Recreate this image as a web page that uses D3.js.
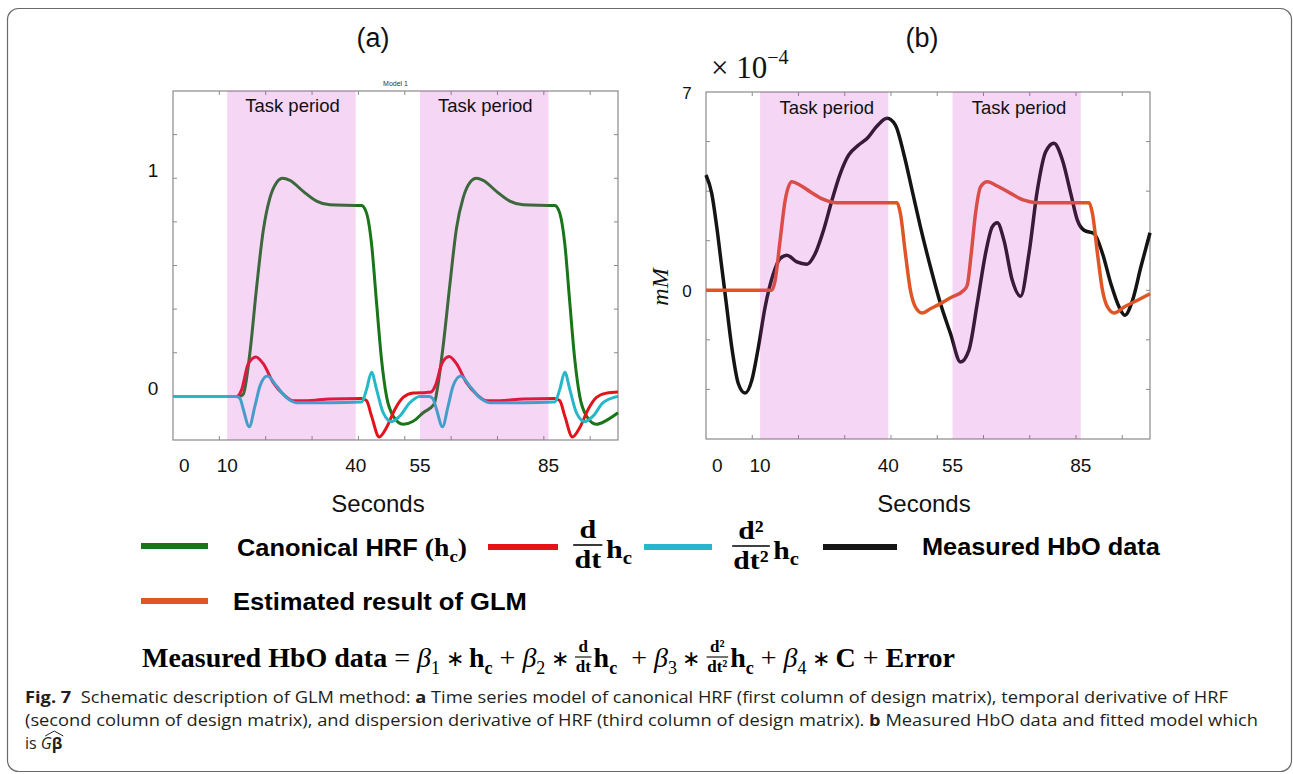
<!DOCTYPE html>
<html><head><meta charset="utf-8">
<script src="https://cdn.jsdelivr.net/npm/d3@7"></script>
<style>body{margin:0;background:#fff}svg{display:block}</style>
</head><body>
<svg id="chart" width="1293" height="774"></svg>
<script>
// ---------------- data ----------------
const timeDomain = [-2.65, 101.2];            // seconds shown on both panels
const taskPeriods = [[10, 40], [55, 85]];     // shaded task blocks (s)
const xTickLabels = [0, 10, 40, 55, 85];
const yLabelsA = [0, 1];
const yTicksA = [0, 0.2, 0.4, 0.6, 0.8, 1.0, 1.2];
const yDomainA = [-0.2, 1.4];
const yLabelsB = [0, 7];
const yTicksB = [-3.5, -1.75, 0, 1.75, 3.5, 5.25];
const yDomainB = [-5.25, 7];
const frameTicks = [1, 2, 3, 4, 5, 6, 7, 8, 9];

// canonical HRF (green)
const canonicalHRF = [[-2.65,0],[12.9,0],[13.75,0.01],[15.3,0.2],[16.86,0.5],[18.41,0.76],[19.97,0.91],[21.52,0.98],[22.92,1.0],[24.63,0.99],[27.74,0.94],[30.85,0.895],[33.96,0.878],[41.35,0.875],[42.52,0.84],[43.68,0.70],[44.85,0.43],[46.01,0.17],[47.18,0.0],[48.73,-0.09],[51.06,-0.128],[53.4,-0.114],[55.73,-0.075],[58.3,-0.035],[59.0,0.03],[60.39,0.23],[61.95,0.51],[63.5,0.77],[65.06,0.91],[66.62,0.98],[68.17,1.0],[69.73,0.99],[72.84,0.94],[75.95,0.895],[79.06,0.878],[86.45,0.875],[87.61,0.84],[88.78,0.70],[89.95,0.43],[91.11,0.17],[92.28,0.0],[93.84,-0.09],[96.17,-0.128],[98.5,-0.11],[101.2,-0.075]];
// temporal derivative (red)
const temporalDeriv = [[-2.65,0],[12.2,0],[13.36,0.03],[14.91,0.15],[16.7,0.181],[18.41,0.15],[20.74,0.063],[23.07,0.01],[25.4,-0.02],[28.52,-0.02],[33.96,-0.012],[41.35,-0.01],[42.52,-0.02],[43.68,-0.09],[45.47,-0.186],[47.18,-0.143],[49.12,-0.06],[51.06,-0.005],[53.4,0.015],[56.51,0.018],[57.6,0.02],[58.6,0.05],[60.1,0.15],[61.8,0.183],[63.5,0.15],[65.84,0.063],[68.17,0.01],[70.5,-0.02],[73.62,-0.02],[79.06,-0.012],[86.45,-0.01],[87.61,-0.02],[88.78,-0.09],[90.57,-0.186],[92.28,-0.143],[94.22,-0.06],[96.17,-0.005],[98.5,0.015],[101.2,0.02]];
// dispersion derivative (cyan)
const dispersionDeriv = [[-2.65,0],[12.2,0],[13.0,-0.01],[13.75,-0.059],[15.14,-0.139],[16.48,-0.044],[17.64,0.047],[19.35,0.093],[21.52,0.047],[23.85,-0.006],[26.18,-0.029],[33.96,-0.029],[41.35,-0.026],[42.52,0.032],[43.68,0.111],[44.85,0.032],[46.4,-0.075],[48.35,-0.116],[50.29,-0.09],[52.62,-0.029],[54.95,0],[57.2,0],[58.0,-0.01],[58.84,-0.059],[60.24,-0.139],[61.56,-0.044],[62.7,0.047],[64.5,0.093],[66.62,0.047],[68.95,-0.006],[71.28,-0.029],[79.06,-0.029],[86.45,-0.026],[87.61,0.032],[88.78,0.111],[89.95,0.032],[91.5,-0.075],[93.45,-0.116],[95.39,-0.09],[97.72,-0.029],[101.2,0]];
// measured HbO (black), x1e-4 mM
const measuredHbO = [[-2.65,4.07],[-1.31,3.42],[-0.14,2.24],[1.03,0.82],[2.2,-0.59],[3.37,-2.0],[4.92,-3.30],[6.49,-3.63],[8.06,-3.18],[9.61,-2.0],[11.18,-0.59],[13.12,0.59],[14.69,1.12],[16.26,1.24],[18.6,1.0],[20.95,0.92],[22.9,1.30],[24.84,2.12],[26.81,3.18],[28.76,4.12],[30.7,4.77],[33.04,5.13],[35.01,5.36],[37.36,5.80],[39.7,6.07],[41.65,5.83],[43.59,4.83],[45.56,3.53],[47.5,2.24],[49.85,0.82],[52.19,-0.47],[54.54,-1.53],[56.88,-2.53],[58.83,-2.12],[60.79,-0.47],[62.74,1.30],[64.3,2.24],[65.48,2.38],[67.03,1.77],[68.99,0.35],[70.94,-0.21],[72.89,1.30],[74.85,3.53],[76.8,4.89],[78.74,5.19],[80.71,4.60],[82.66,3.42],[84.23,2.47],[85.78,2.12],[88.12,2.0],[90.09,1.30],[92.03,0.24],[93.98,-0.59],[95.31,-0.88],[97.12,-0.35],[99.06,0.82],[101.2,2.03]];
// GLM estimate (orange)
const glmEstimate = [[-2.65,0],[12.74,0],[13.52,0.35],[14.69,1.77],[15.87,3.18],[17.43,3.83],[19.38,3.71],[21.72,3.48],[24.84,3.21],[27.98,3.09],[42.04,3.09],[42.82,2.71],[43.99,1.30],[45.16,0],[46.33,-0.59],[47.9,-0.80],[49.85,-0.65],[52.19,-0.47],[54.54,-0.26],[57.65,0],[58.45,0.18],[59.39,1.30],[60.39,2.71],[61.57,3.65],[63.13,3.83],[65.48,3.68],[68.6,3.42],[71.72,3.18],[74.85,3.09],[86.95,3.09],[87.74,2.71],[88.91,1.30],[90.09,0],[91.26,-0.59],[92.81,-0.80],[95.15,-0.59],[98.29,-0.35],[101.2,-0.12]];

// ---------------- style / layout ----------------
const SANS = "'Liberation Sans', Arial, sans-serif";
const SERIF = "'Liberation Serif', 'Times New Roman', serif";
const CAP = "'Open Sans', 'Noto Sans', sans-serif";
const C = {green:'#187618', red:'#e3131b', cyan:'#26b8c8', black:'#141414', orange:'#de5626',
           shade:'rgb(204,51,204)', frame:'#8a8a8a'};

const svg = d3.select('#chart');
svg.append('rect').attr('x',7.5).attr('y',8.5).attr('width',1284).attr('height',763)
  .attr('rx',11).attr('fill','none').attr('stroke','#6a6a6a').attr('stroke-width',1.2);

function panel(cfg) {
  const g = svg.append('g');
  const x = d3.scaleLinear().domain(timeDomain).range([cfg.left, cfg.right]);
  const y = d3.scaleLinear().domain(cfg.yDomain).range([cfg.bottom, cfg.top]);
  const xf = d3.scaleLinear().domain([0, 9.6]).range([cfg.left, cfg.right]);
  // frame
  g.append('rect').attr('x',cfg.left).attr('y',cfg.top).attr('width',cfg.right-cfg.left)
    .attr('height',cfg.bottom-cfg.top).attr('fill','none').attr('stroke',C.frame).attr('stroke-width',1.2);
  const tk = g.append('g').attr('stroke',C.frame).attr('stroke-width',1);
  frameTicks.forEach(v => {
    tk.append('line').attr('x1',xf(v)).attr('x2',xf(v)).attr('y1',cfg.bottom).attr('y2',cfg.bottom-4);
    tk.append('line').attr('x1',xf(v)).attr('x2',xf(v)).attr('y1',cfg.top).attr('y2',cfg.top+4);
  });
  cfg.yTicks.forEach(v => {
    tk.append('line').attr('x1',cfg.left).attr('x2',cfg.left+4).attr('y1',y(v)).attr('y2',y(v));
    tk.append('line').attr('x1',cfg.right).attr('x2',cfg.right-4).attr('y1',y(v)).attr('y2',y(v));
  });
  // curves
  const line = d3.line().x(d=>x(d[0])).y(d=>y(d[1])).curve(d3.curveMonotoneX);
  cfg.series.forEach(s => {
    g.append('path').attr('d', line(s.data)).attr('fill','none').attr('stroke', s.color)
      .attr('stroke-width', cfg.lw).attr('stroke-linejoin','round');
  });
  // task shading (translucent overlay)
  taskPeriods.forEach(p => {
    g.append('rect').attr('x',x(p[0])).attr('y',cfg.top).attr('width',x(p[1])-x(p[0]))
      .attr('height',cfg.bottom-cfg.top).attr('fill',C.shade).attr('fill-opacity',0.2);
    g.append('text').attr('x',(x(p[0])+x(p[1]))/2 + cfg.taskDx).attr('y',cfg.taskY)
      .attr('text-anchor','middle').attr('font-family',SANS).attr('font-size',18.5)
      .attr('fill','#111').text('Task period');
  });
  // x tick labels
  xTickLabels.forEach(v => {
    g.append('text').attr('x',x(v)).attr('y',472).attr('text-anchor','middle')
      .attr('font-family',SANS).attr('font-size',19).attr('fill','#111').text(v);
  });
  g.append('text').attr('x',cfg.secondsX).attr('y',512).attr('text-anchor','middle')
    .attr('font-family',SANS).attr('font-size',24).attr('fill','#111').text('Seconds');
  cfg.yLabels.forEach(v => {
    g.append('text').attr('x',cfg.yLabelX).attr('y',y(v)+cfg.yLabelDy).attr('text-anchor','middle')
      .attr('font-family',SANS).attr('font-size',cfg.yLabelSize).attr('fill','#111').text(v);
  });
  g.append('text').attr('x',cfg.titleX).attr('y',47).attr('text-anchor','middle')
    .attr('font-family',SANS).attr('font-size',27).attr('fill','#111').text(cfg.title);
  return {g, x, y};
}

const A = panel({left:173, right:618, top:91, bottom:440, yDomain:yDomainA, yTicks:yTicksA,
  yLabels:yLabelsA, yLabelX:153, yLabelDy:-1, yLabelSize:19, lw:3, taskY:112, taskDx:1,
  title:'(a)', titleX:373, secondsX:378,
  series:[{data:canonicalHRF,color:C.green},{data:temporalDeriv,color:C.red},{data:dispersionDeriv,color:C.cyan}]});
A.g.append('text').attr('x',395.5).attr('y',86).attr('text-anchor','middle')
  .attr('font-family',SANS).attr('font-size',7).attr('fill','#333').text('Model 1');

const B = panel({left:706, right:1150, top:92, bottom:439, yDomain:yDomainB, yTicks:yTicksB,
  yLabels:yLabelsB, yLabelX:687, yLabelDy:7, yLabelSize:17, lw:3.5, taskY:113.5, taskDx:2.5,
  title:'(b)', titleX:922, secondsX:924,
  series:[{data:measuredHbO,color:C.black},{data:glmEstimate,color:C.orange}]});
const ex = B.g.append('text').attr('x',711).attr('y',78).attr('font-family',SERIF).attr('font-size',31).attr('fill','#111');
ex.append('tspan').text('\u00d7\u00a010');
ex.append('tspan').attr('font-size',20).attr('dy',-14).text('\u22124');
B.g.append('text').attr('transform','translate(668,287) rotate(-90)').attr('text-anchor','middle')
  .attr('font-family',SERIF).attr('font-style','italic').attr('font-size',24).attr('fill','#111').text('mM');

// ---------------- inline math layout ----------------
function mathRun(pieces, x0, base, target) {
  const g = svg.append('g');
  let x = 0;
  for (const p of pieces) {
    if (p.frac) {
      const fs = p.size, ax = -p.axis;
      const mk = s => g.append('text').attr('font-family',SERIF).attr('font-weight','bold')
        .attr('font-size',fs).attr('text-anchor','middle').attr('fill','#000').text(s);
      const n = mk(p.frac[0]), d = mk(p.frac[1]);
      const w = Math.max(n.node().getComputedTextLength(), d.node().getComputedTextLength()) + fs*0.16;
      n.attr('x', x + w/2).attr('y', ax - fs*0.27);
      d.attr('x', x + w/2).attr('y', ax + fs*0.88);
      g.append('line').attr('x1',x+fs*0.04).attr('x2',x+w-fs*0.04).attr('y1',ax).attr('y2',ax)
        .attr('stroke','#000').attr('stroke-width',Math.max(1.1, fs*0.06));
      x += w + fs*0.08;
    } else {
      const t = g.append('text').attr('x',x).attr('y',p.dy||0)
        .attr('font-family',p.family||SERIF).attr('font-weight',p.bold===false?'normal':'bold')
        .attr('font-style',p.italic?'italic':'normal').attr('font-size',p.size).attr('fill','#000')
        .text(p.s.replace(/ /g,'\u00a0'));
      x += t.node().getComputedTextLength();
    }
  }
  g.attr('transform',`translate(${x0},${base}) scale(${target/x},1)`);
  return g;
}

// ---------------- legend ----------------
const legendBars = [
  {x1:141,x2:208,y:546,color:C.green},{x1:488,x2:558,y:547,color:C.red},
  {x1:644,x2:712,y:547,color:C.cyan},{x1:823,x2:897,y:547,color:C.black},
  {x1:141,x2:208,y:601,color:C.orange}];
legendBars.forEach(b => svg.append('line').attr('x1',b.x1).attr('x2',b.x2).attr('y1',b.y).attr('y2',b.y)
  .attr('stroke',b.color).attr('stroke-width',6));
mathRun([{s:'Canonical HRF ',family:SANS,size:23},{s:'(h',size:25},{s:'c',size:17,dy:6},{s:')',size:25}], 237, 556, 230);
mathRun([{frac:['d','dt'],size:26,axis:13},{s:'h',size:26},{s:'c',size:18,dy:6}], 572, 558, 60);
mathRun([{frac:['d\u00b2','dt\u00b2'],size:26,axis:13},{s:'h',size:26},{s:'c',size:18,dy:6}], 731, 559, 68);
mathRun([{s:'Measured HbO data',family:SANS,size:23}], 922, 555, 238);
mathRun([{s:'Estimated result of GLM',family:SANS,size:23}], 233, 610, 294);

// ---------------- equation ----------------
const E = 28, S = 18;
const beta = n => [{s:'\u03b2',size:E,italic:true,bold:false},{s:String(n),size:S,dy:7,bold:false}];
const hc = [{s:'h',size:E},{s:'c',size:S,dy:7}];
const times = {s:' \u2217 ',size:22,bold:false,dy:-1};
const plus = {s:' + ',size:E,bold:false};
mathRun([
  {s:'Measured HbO data',size:E},{s:' = ',size:E,bold:false},
  ...beta(1),times,...hc,plus,
  ...beta(2),times,{frac:['d','dt'],size:17,axis:10},...hc,{s:'  + ',size:E,bold:false},
  ...beta(3),times,{frac:['d\u00b2','dt\u00b2'],size:17,axis:10},...hc,plus,
  ...beta(4),times,{s:'C',size:E},plus,{s:'Error',size:E}
], 142, 667, 813);

// ---------------- caption ----------------
function capLine(y, parts, len) {
  const t = svg.append('text').attr('x',25).attr('y',y).attr('font-family',CAP).attr('font-size',16)
    .attr('fill','#231f20');
  if (len) t.attr('textLength',len).attr('lengthAdjust','spacingAndGlyphs');
  parts.forEach(p => t.append('tspan').attr('font-weight',p.b?'bold':'normal')
    .attr('font-style',p.i?'italic':'normal').text(p.s.replace(/ /g,'\u00a0')));
  return t;
}
capLine(703, [{s:'Fig. 7',b:true},{s:'  Schematic description of GLM method: '},{s:'a',b:true},
  {s:' Time series model of canonical HRF (first column of design matrix), temporal derivative of HRF'}], 1203);
capLine(726, [{s:'(second column of design matrix), and dispersion derivative of HRF (third column of design matrix). '},
  {s:'b',b:true},{s:' Measured HbO data and fitted model which'}], 1233);
const l3 = capLine(749, [{s:'is '},{s:'G',i:true},{s:'\u03b2',b:true}]);
const bb = l3.node().getBBox();
{
  const gx = bb.x + bb.width;          // right end of "Gβ"
  const hx0 = gx - 17, hx1 = gx + 1, top = bb.y - 1;
  svg.append('path').attr('d',`M${hx0},${top+5} L${(hx0+hx1)/2},${top} L${hx1},${top+5}`)
    .attr('fill','none').attr('stroke','#231f20').attr('stroke-width',1);
}
</script>
</body></html>
